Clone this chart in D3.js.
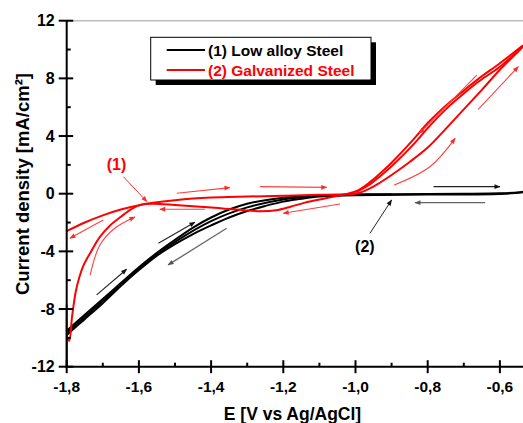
<!DOCTYPE html>
<html><head><meta charset="utf-8">
<script src="https://cdn.jsdelivr.net/npm/d3@7"></script>
<style>
html,body{margin:0;padding:0;background:#fff;}
svg{display:block;font-family:"Liberation Sans",Arial,sans-serif;}
</style></head>
<body><svg id="c" width="523" height="423"></svg>
<script>
// ---- data ----
const xTicks = [-1.8,-1.6,-1.4,-1.2,-1.0,-0.8,-0.6];
const xTickLabels = ["-1,8","-1,6","-1,4","-1,2","-1,0","-0,8","-0,6"];
const yTicks = [12,8,4,0,-4,-8,-12];
const yTickLabels = ["12","8","4","0","-4","-8","-12"];
const seriesNames = ["(1) Low alloy Steel","(2) Galvanized Steel"];

// Low alloy steel (black) scans: [E, i]
const blackForward = [[-1.8,-9.5],[-1.75,-8.4],[-1.7,-7.3],[-1.65,-6.2],[-1.6,-5.1],[-1.55,-4.1],[-1.5,-3.2],[-1.45,-2.35],[-1.4,-1.65],[-1.35,-1.1],[-1.3,-0.7],[-1.25,-0.45],[-1.2,-0.28],[-1.15,-0.17],[-1.1,-0.1],[-1.0,-0.05],[-0.9,-0.03],[-0.7,0],[-0.6,0.03],[-0.55,0.08],[-0.536,0.13]];
const blackBackward = [[-0.536,0.1],[-0.6,-0.02],[-0.8,-0.06],[-1.0,-0.1],[-1.1,-0.2],[-1.15,-0.35],[-1.2,-0.55],[-1.25,-0.85],[-1.3,-1.2],[-1.35,-1.65],[-1.4,-2.2],[-1.45,-2.8],[-1.5,-3.5],[-1.55,-4.3],[-1.6,-5.3],[-1.65,-6.4],[-1.7,-7.6],[-1.75,-8.7],[-1.8,-9.8]];
const blackSecond = [[-1.8,-9.65],[-1.7,-7.45],[-1.6,-5.2],[-1.5,-3.35],[-1.4,-1.9],[-1.3,-0.95],[-1.2,-0.4],[-1.1,-0.15],[-1.0,-0.07],[-0.9,-0.05]];

// Galvanized steel (red) scans
const redForward = [[-1.8,-2.6],[-1.75,-2.0],[-1.7,-1.5],[-1.65,-1.1],[-1.6,-0.8],[-1.55,-0.6],[-1.5,-0.45],[-1.45,-0.34],[-1.4,-0.27],[-1.3,-0.2],[-1.2,-0.14],[-1.1,-0.08],[-1.0,0.0],[-0.97,0.25],[-0.94,0.65],[-0.9,1.3],[-0.85,2.2],[-0.8,3.2],[-0.75,4.5],[-0.7,5.85],[-0.65,7.2],[-0.6,8.6],[-0.56,9.6],[-0.536,10.2]];
const redBackward = [[-0.536,10.3],[-0.6,9.05],[-0.655,8.05],[-0.7,7.15],[-0.75,6.1],[-0.8,4.9],[-0.84,3.75],[-0.9,2.15],[-0.93,1.45],[-0.96,0.8],[-1.0,0.15],[-1.05,-0.15],[-1.1,-0.4],[-1.14,-0.62],[-1.18,-0.9],[-1.22,-1.15],[-1.26,-1.22],[-1.32,-1.12],[-1.38,-1.0],[-1.44,-0.88],[-1.5,-0.78],[-1.56,-0.7],[-1.59,-0.74],[-1.62,-1.05],[-1.65,-1.6],[-1.68,-2.2],[-1.708,-3.0],[-1.73,-3.9],[-1.754,-5.0],[-1.765,-5.8],[-1.775,-6.8],[-1.785,-8.5],[-1.793,-10.2],[-1.798,-10.0]];
const redSecondAnodic = [[-0.536,10.25],[-0.6,8.8],[-0.655,7.85],[-0.7,6.95],[-0.75,5.85],[-0.8,4.55],[-0.84,3.4],[-0.9,1.9],[-0.93,1.25],[-0.96,0.65],[-1.0,0.1]];
const redSpike = [[-1.8,-7.7],[-1.8,-12]];

// annotation arrows [from, to] in data units
const redArrows = [
  [[-1.495,0.03],[-1.348,0.42]],
  [[-1.265,0.49],[-1.08,0.44]],
  [[-1.417,-1.08],[-1.542,-1.08]],
  [[-1.043,-0.71],[-1.2,-1.36]],
  [[-1.699,-1.82],[-1.791,-3.09]],
  [[-0.664,8.23],[-0.823,4.19]],
  [[-0.66,5.85],[-0.549,8.81]]
];
const redArcs = [
  [[-1.735,-5.64],[-1.708,-3.56],[-1.666,-2.38],[-1.611,-1.62]],
  [[-0.893,0.6],[-0.794,1.87],[-0.724,3.84]]
];
const blackArrows = [
  [[-0.784,0.49],[-0.6,0.49]],
  [[-1.717,-7.02],[-1.634,-5.24]],
  [[-1.546,-3.44],[-1.445,-1.98]]
];
const grayArrows = [
  [[-0.641,-0.62],[-0.835,-0.62]],
  [[-1.357,-2.4],[-1.519,-4.94]]
];
const labelNotes = [
  {text:"(1)", at:[-1.662,2.0], from:[-1.643,1.18], to:[-1.578,-0.55], color:"#ff0000"},
  {text:"(2)", at:[-0.974,-3.68], from:[-0.96,-2.75], to:[-0.9,-0.44], color:"#000"}
];

// ---- drawing ----
const svg = d3.select("#c");
const x = d3.scaleLinear().domain([-1.8,-0.536]).range([66.7,523]);
const y = d3.scaleLinear().domain([-12,12]).range([366.7,20.7]);

const defs = svg.append("defs");
function marker(id,color){
  defs.append("marker").attr("id",id).attr("viewBox","0 0 10 10").attr("refX",9).attr("refY",5)
    .attr("markerWidth",7).attr("markerHeight",6).attr("orient","auto").attr("markerUnits","userSpaceOnUse")
    .append("path").attr("d","M0,1 L10,5 L0,9 Z").attr("fill",color);
}
marker("mr","#ff2a2a"); marker("mb","#111"); marker("mg","#555");

// top frame line
svg.append("line").attr("x1",x(-1.8)).attr("x2",523).attr("y1",y(12)).attr("y2",y(12))
  .attr("stroke","#bdbdbd").attr("stroke-width",1.5);

const line = d3.line().x(d=>x(d[0])).y(d=>y(d[1])).curve(d3.curveCatmullRom.alpha(0.5));
const gc = svg.append("g");
[blackForward,blackBackward,blackSecond].forEach(s=>{
  gc.append("path").attr("d",line(s)).attr("fill","none").attr("stroke","#000").attr("stroke-width",2);
});
[redForward,redBackward,redSecondAnodic,redSpike].forEach(s=>{
  gc.append("path").attr("d",line(s)).attr("fill","none").attr("stroke","#ff0000").attr("stroke-width",2);
});

const ga = svg.append("g").attr("fill","none");
redArrows.forEach(a=>ga.append("path").attr("d",d3.line().x(d=>x(d[0])).y(d=>y(d[1]))(a))
  .attr("stroke","#ff4040").attr("stroke-width",1.1).attr("marker-end","url(#mr)"));
redArcs.forEach(a=>ga.append("path").attr("d",d3.line().x(d=>x(d[0])).y(d=>y(d[1])).curve(d3.curveCatmullRom)(a))
  .attr("stroke","#ff4040").attr("stroke-width",1.1).attr("marker-end","url(#mr)"));
blackArrows.forEach(a=>ga.append("path").attr("d",d3.line().x(d=>x(d[0])).y(d=>y(d[1]))(a))
  .attr("stroke","#222").attr("stroke-width",1.1).attr("marker-end","url(#mb)"));
grayArrows.forEach(a=>ga.append("path").attr("d",d3.line().x(d=>x(d[0])).y(d=>y(d[1]))(a))
  .attr("stroke","#666").attr("stroke-width",1.3).attr("marker-end","url(#mg)"));
labelNotes.forEach(n=>{
  ga.append("line").attr("x1",x(n.from[0])).attr("y1",y(n.from[1])).attr("x2",x(n.to[0])).attr("y2",y(n.to[1]))
    .attr("stroke",n.color==="#000"?"#222":"#ff2a2a").attr("stroke-width",1).attr("marker-end",n.color==="#000"?"url(#mb)":"url(#mr)");
  svg.append("text").attr("x",x(n.at[0])).attr("y",y(n.at[1])).attr("dy","0.35em").attr("text-anchor","middle")
    .attr("font-weight","bold").attr("font-size",16).attr("fill",n.color).text(n.text);
});

// axes
const gx = svg.append("g").attr("transform",`translate(0,${y(-12)})`);
gx.append("line").attr("x1",x(-1.8)-1).attr("x2",523).attr("stroke","#000").attr("stroke-width",2);
xTicks.forEach((t,i)=>{
  gx.append("line").attr("x1",x(t)).attr("x2",x(t)).attr("y1",-6.5).attr("y2",6.5).attr("stroke","#000").attr("stroke-width",2);
  gx.append("text").attr("x",x(t)).attr("y",25).attr("text-anchor","middle").attr("font-weight","bold").attr("font-size",15.5).text(xTickLabels[i]);
});
d3.range(-1.7,-0.55,0.2).forEach(t=>{
  gx.append("line").attr("x1",x(t)).attr("x2",x(t)).attr("y1",-4).attr("y2",0).attr("stroke","#000").attr("stroke-width",2);
});
const gy = svg.append("g").attr("transform",`translate(${x(-1.8)},0)`);
gy.append("line").attr("y1",y(12)).attr("y2",y(-12)+1).attr("stroke","#000").attr("stroke-width",2);
yTicks.forEach((t,i)=>{
  gy.append("line").attr("y1",y(t)).attr("y2",y(t)).attr("x1",-8).attr("x2",6.5).attr("stroke","#000").attr("stroke-width",2);
  gy.append("text").attr("x",-12).attr("y",y(t)).attr("dy","0.35em").attr("text-anchor","end").attr("font-weight","bold").attr("font-size",16).text(yTickLabels[i]);
});
[10,6,2,-2,-6,-10].forEach(t=>{
  gy.append("line").attr("y1",y(t)).attr("y2",y(t)).attr("x1",0).attr("x2",4).attr("stroke","#000").attr("stroke-width",2);
});

// axis titles
svg.append("text").attr("transform",`translate(28.5,184) rotate(-90)`).attr("text-anchor","middle")
  .attr("font-weight","bold").attr("font-size",18.5).text("Current density [mA/cm²]");
svg.append("text").attr("x",292.5).attr("y",419.5).attr("text-anchor","middle")
  .attr("font-weight","bold").attr("font-size",17.5).text("E [V vs Ag/AgCl]");

// legend
const lg = svg.append("g");
lg.append("rect").attr("x",155.7).attr("y",42.3).attr("width",220.3).attr("height",42.7).attr("fill","#000");
lg.append("rect").attr("x",150.7).attr("y",37.3).attr("width",220.3).attr("height",42.7).attr("fill","#fff").attr("stroke","#000").attr("stroke-width",1);
const legColors = ["#000","#ff0000"];
seriesNames.forEach((nm,i)=>{
  const yy = 50 + i*20;
  lg.append("line").attr("x1",166.7).attr("x2",205).attr("y1",yy).attr("y2",yy).attr("stroke",legColors[i]).attr("stroke-width",2);
  lg.append("text").attr("x",208).attr("y",yy).attr("dy","0.36em").attr("font-weight","bold").attr("font-size",15.5)
    .attr("fill",legColors[i]).text(nm);
});
</script></body></html>
